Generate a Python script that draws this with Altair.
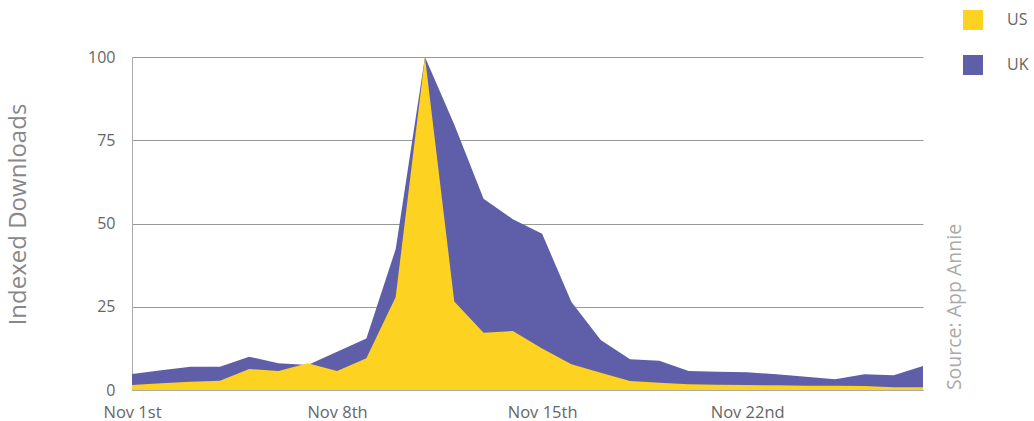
import altair as alt
import pandas as pd

days = list(range(28))
us = [1.5, 2.0, 2.5, 2.8, 6.3, 5.7, 8.0, 5.7, 9.5, 27.9, 100, 26.6, 17.2, 17.7,
      12.5, 7.7, 5.2, 2.7, 2.2, 1.7, 1.6, 1.5, 1.4, 1.3, 1.3, 1.2, 0.8, 0.8]
uk = [4.8, 5.9, 7.0, 7.0, 10.0, 8.0, 7.5, 11.5, 15.5, 42.3, 100, 79.7, 57.4, 51.3,
      46.9, 26.4, 15.0, 9.2, 8.8, 5.7, 5.5, 5.3, 4.7, 4.0, 3.2, 4.7, 4.4, 7.2]
tick_days = [0, 7, 14, 21]
tick_labels = ["Nov 1st", "Nov 8th", "Nov 15th", "Nov 22nd"]
series = ["US", "UK"]
colors = ["#FDD221", "#5F5EA9"]
source_text = ["Source: App Annie"]

df_us = pd.DataFrame({"day": days, "value": us, "country": "US"})
df_uk = pd.DataFrame({"day": days, "value": uk, "country": "UK"})

FONT = "Open Sans"
label_expr = "[" + ",".join(f"'{l}'" for l in tick_labels) + "][indexof(" + str(tick_days) + ", datum.value)]"

x = alt.X("day:Q", scale=alt.Scale(domain=[0, 27], nice=False, zero=False),
          axis=alt.Axis(values=tick_days, labelExpr=label_expr, title=None, grid=False,
                        ticks=False, labelPadding=14, labelFontSize=16.5, labelColor="#666",
                        labelFont=FONT, domainColor="#aaaaaa", labelFlush=False))
y = alt.Y("value:Q", scale=alt.Scale(domain=[0, 100], nice=False),
          axis=alt.Axis(values=[0, 25, 50, 75, 100], title="Indexed Downloads",
                        titleFontSize=24, titleFont=FONT, titleFontWeight="normal",
                        titleColor="#888", titleX=-102, titleY=157, titleAngle=270,
                        titleAlign="center", titleBaseline="bottom",
                        labelFontSize=16, labelColor="#666", labelFont=FONT,
                        ticks=False, labelPadding=17, gridColor="#999999",
                        domainColor="#aaaaaa"))
color = alt.Color("country:N", scale=alt.Scale(domain=series, range=colors),
                  legend=alt.Legend(title=None, orient="none", legendX=831, legendY=-47,
                                    symbolType="square", symbolSize=400, symbolStrokeWidth=0,
                                    symbolOpacity=1, labelFontSize=16, labelColor="#666",
                                    labelFont=FONT, rowPadding=25, labelOffset=24, padding=0))

uk_area = alt.Chart(df_uk).mark_area(opacity=1).encode(x=x, y=y, color=color)
us_area = alt.Chart(df_us).mark_area(opacity=1).encode(x=x, y=y, color=color)

src = alt.Chart(pd.DataFrame({"t": source_text})).mark_text(
    angle=270, fontSize=19.5, font=FONT, color="#aaaaaa", align="center", baseline="middle"
).encode(x=alt.value(823), y=alt.value(250), text="t:N")

chart = alt.layer(uk_area, us_area, src).properties(
    width=791, height=333,
    autosize=alt.AutoSizeParams(type="none"),
    padding={"left": 132, "top": 57, "right": 111, "bottom": 31},
).configure_view(stroke=None)

chart.save("out.html", embed_options={"renderer": "svg", "actions": False})
